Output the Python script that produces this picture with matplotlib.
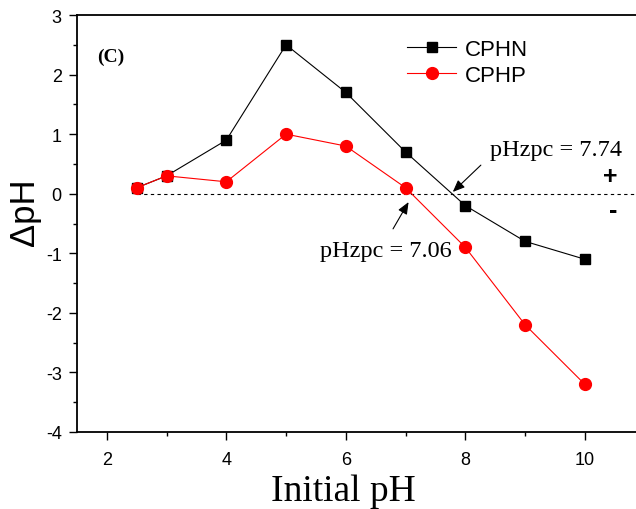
import numpy as np
import matplotlib
matplotlib.use("Agg")
import matplotlib.pyplot as plt
from matplotlib.ticker import MultipleLocator

# data
ph_initial = [2.5, 3, 4, 5, 6, 7, 8, 9, 10]
dph_cphn = [0.1, 0.3, 0.9, 2.5, 1.7, 0.7, -0.2, -0.8, -1.1]
dph_cphp = [0.1, 0.3, 0.2, 1.0, 0.8, 0.1, -0.9, -2.2, -3.2]
x_ticks = [2, 4, 6, 8, 10]
y_ticks = [-4, -3, -2, -1, 0, 1, 2, 3]

sans = "Liberation Sans"
serif = "Liberation Serif"
plt.rcParams["axes.unicode_minus"] = False

fig = plt.figure(figsize=(6.36, 5.1), dpi=100)
ax = fig.add_axes([0.121, 0.151, 0.8925, 0.8176])

ax.plot([2.5, 11], [0, 0], ls=(0, (3, 3)), color="black", lw=0.8)
ax.plot(ph_initial, dph_cphn, color="black", lw=0.8, marker="s", ms=7.5, label="CPHN")
ax.plot(ph_initial, dph_cphp, color="red", lw=0.8, marker="o", ms=8.5, label="CPHP")

ax.set_xlim(1.5, 11)
ax.set_ylim(-4, 3)
ax.set_xticks(x_ticks)
ax.set_yticks(y_ticks)
ax.xaxis.set_minor_locator(MultipleLocator(1))
ax.yaxis.set_minor_locator(MultipleLocator(0.5))
ax.tick_params(which="major", direction="out", length=6, width=1, labelsize=13, pad=5)
ax.tick_params(axis="x", which="major", pad=8)
ax.tick_params(which="minor", direction="out", length=3, width=1)
for lab in ax.get_xticklabels() + ax.get_yticklabels():
    lab.set_fontfamily(sans)
for sp in ax.spines.values():
    sp.set_linewidth(1.3)

# labels placed in figure pixels to match the reference
fig.text(343 / 636, 1 - 492 / 510, "Initial pH", fontfamily=serif, fontsize=27,
         ha="center", va="center")
fig.text(25 / 636, 1 - 212 / 510, "ΔpH", fontfamily=sans, fontsize=25,
         rotation=90, ha="center", va="center")

ax.text(1.83, 2.3, "(C)", fontfamily=serif, fontweight="bold", fontsize=14, va="center")

arrow = dict(arrowstyle="-|>,head_length=0.6,head_width=0.25", color="black", lw=0.8,
             mutation_scale=12, shrinkA=0, shrinkB=0)
ax.annotate("", xy=(7.79, 0.03), xytext=(8.26, 0.48), arrowprops=arrow)
ax.annotate("", xy=(7.05, -0.14), xytext=(6.79, -0.59), arrowprops=arrow)
ax.text(8.42, 0.75, "pHzpc = 7.74", fontfamily=serif, fontsize=17.5, va="center", ha="left")
ax.text(6.67, -0.95, "pHzpc = 7.06", fontfamily=serif, fontsize=17.5, va="center", ha="center")
ax.text(10.43, 0.3, "+", fontfamily=sans, fontweight="bold", fontsize=18, ha="center", va="center")
ax.text(10.48, -0.27, "-", fontfamily=sans, fontweight="bold", fontsize=18, ha="center", va="center")

leg = ax.legend(loc="upper left", bbox_to_anchor=(0.547, 0.99), frameon=False,
                prop={"family": sans, "size": 16}, handlelength=2.2,
                handletextpad=0.4, labelspacing=0.2)

fig.savefig("out.png", dpi=100)
